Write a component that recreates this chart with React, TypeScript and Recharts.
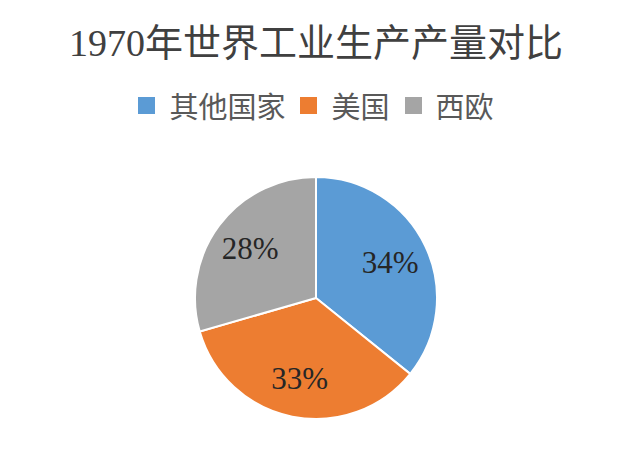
import React from 'react';
import { PieChart, Pie, Cell } from 'recharts';

const regions = ['其他国家', '美国', '西欧'];
const shares = [34, 33, 28];
const COLORS = ['#5B9BD5', '#ED7D31', '#A5A5A5'];

const data = regions.map((name, i) => ({ name, value: shares[i] }));

const FONT = '"Liberation Serif", "Noto Sans CJK SC", serif';
const RADIAN = Math.PI / 180;

const renderLabel = (props: any) => {
  const { cx, cy, midAngle, outerRadius, value } = props;
  const r = outerRadius * 0.68;
  const x = cx + r * Math.cos(-midAngle * RADIAN);
  const y = cy + r * Math.sin(-midAngle * RADIAN);
  return (
    <text
      x={x}
      y={y}
      fill="#262626"
      textAnchor="middle"
      dominantBaseline="central"
      fontFamily={FONT}
      fontSize={31}
    >
      {`${value}%`}
    </text>
  );
};

export default function App() {
  return (
    <div style={{ position: 'absolute', left: 0, top: 0, width: 632, height: 461, background: '#fff' }}>
      <div
        style={{
          position: 'absolute',
          top: 12,
          width: '100%',
          textAlign: 'center',
          fontFamily: FONT,
          fontSize: 38,
          color: '#404040',
          zIndex: 1,
        }}
      >
        1970年世界工业生产产量对比
      </div>
      {/* legend */}
      <div
        style={{
          position: 'absolute',
          top: 84,
          width: '100%',
          display: 'flex',
          justifyContent: 'center',
          alignItems: 'center',
          fontFamily: FONT,
          fontSize: 29,
          color: '#595959',
          zIndex: 1,
        }}
      >
        {data.map((d, i) => (
          <div key={d.name} style={{ display: 'flex', alignItems: 'center', marginRight: i < data.length - 1 ? 15 : 0 }}>
            <span style={{ width: 17, height: 17, background: COLORS[i], display: 'inline-block', marginRight: 14 }} />
            <span>{d.name}</span>
          </div>
        ))}
      </div>
      <PieChart width={632} height={461} margin={{ top: 0, right: 0, bottom: 0, left: 0 }}>
        <Pie
          data={data}
          dataKey="value"
          nameKey="name"
          cx={316}
          cy={298}
          outerRadius={121}
          startAngle={90}
          endAngle={-270}
          stroke="#fff"
          strokeWidth={2}
          labelLine={false}
          label={renderLabel}
          isAnimationActive={false}
        >
          {data.map((d, i) => (
            <Cell key={d.name} fill={COLORS[i]} />
          ))}
        </Pie>
      </PieChart>
    </div>
  );
}
